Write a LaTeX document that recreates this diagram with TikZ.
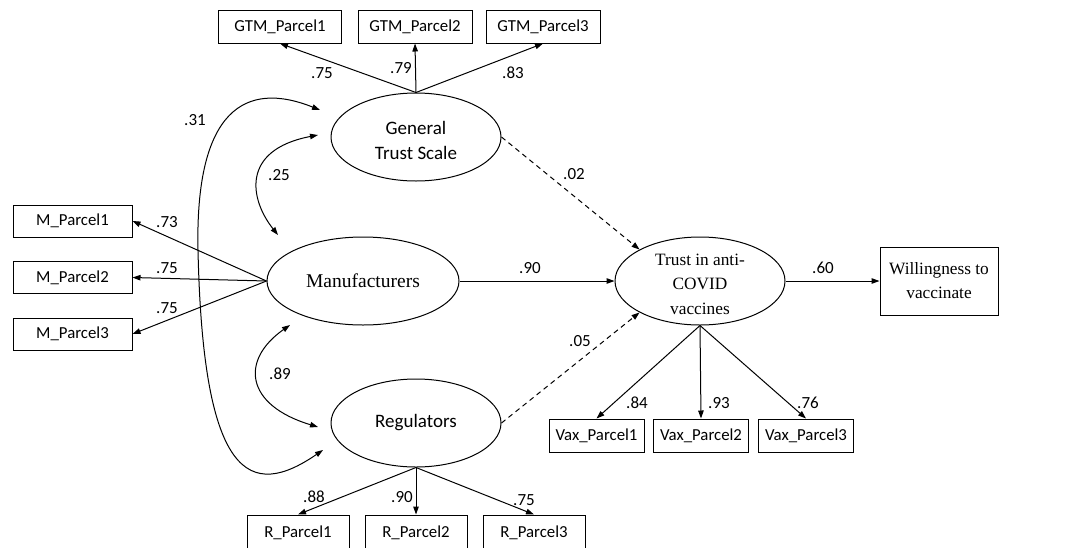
\documentclass[tikz,border=0pt]{standalone}
\usepackage{fontspec}
\setmainfont{Liberation Serif}
\newfontfamily\calfont{Carlito}
\usetikzlibrary{shapes.geometric,arrows.meta}
\tikzset{
  tip/.style={-{Triangle[length=8pt,width=5.5pt]}},
  dtip/.style={{Triangle[length=8pt,width=5.5pt]}-{Triangle[length=8pt,width=5.5pt]}},
  lat/.style={draw,ellipse,minimum width=170pt,minimum height=88pt,inner sep=0pt},
  latm/.style={draw,ellipse,minimum width=192pt,minimum height=88pt,inner sep=0pt},
  obs/.style={draw,rectangle,inner sep=0pt,minimum height=33pt,font=\calfont\fontsize{16.8}{19}\selectfont},
  sanstxt/.style={align=center,inner sep=0pt,font=\calfont\fontsize{19}{25}\selectfont},
  seriftxt/.style={align=center,inner sep=0pt,font=\fontsize{17.3}{24.5}\selectfont},
  coef/.style={inner sep=0pt,font=\calfont\fontsize{17}{19}\selectfont},
  dsh/.style={dash pattern=on 5pt off 4pt}
}
\begin{document}
\begin{tikzpicture}[x=1pt,y=-1pt,line width=1pt]
\useasboundingbox (0,0) rectangle (1068,547);
\clip (0,0) rectangle (1068,547);
% latent variables
\node[lat] (gts) at (416,137) {};
\node[sanstxt] (gtstxt) at (416,140) {General\\Trust Scale};
\node[latm] (man) at (363,281) {};
\node[seriftxt,font=\fontsize{19.5}{24}\selectfont] (mantxt) at (363,281) {Manufacturers};
\node[lat] (reg) at (416,423) {};
\node[sanstxt] (regtxt) at (416,423) {Regulators};
\node[lat] (trust) at (700,281) {};
\node[seriftxt] (trusttxt) at (700,284) {Trust in anti-\\COVID\\vaccines};
% observed
\node[obs,minimum width=123pt] (g1) at (280,26.5) {GTM\_Parcel1};
\node[obs,minimum width=114pt] (g2) at (415,26.5) {GTM\_Parcel2};
\node[obs,minimum width=114pt] (g3) at (543,26.5) {GTM\_Parcel3};
\node[obs,minimum width=119pt,minimum height=32pt] (m1) at (72.5,221) {M\_Parcel1};
\node[obs,minimum width=119pt,minimum height=32pt] (m2) at (72.5,277.5) {M\_Parcel2};
\node[obs,minimum width=119pt,minimum height=32pt] (m3) at (72.5,334) {M\_Parcel3};
\node[obs,minimum width=102pt,minimum height=36pt] (r1) at (298,533) {R\_Parcel1};
\node[obs,minimum width=102pt,minimum height=36pt] (r2) at (416,533) {R\_Parcel2};
\node[obs,minimum width=102pt,minimum height=36pt] (r3) at (534,533) {R\_Parcel3};
\node[obs,minimum width=95pt] (v1) at (596.5,435.5) {Vax\_Parcel1};
\node[obs,minimum width=95pt] (v2) at (701,435.5) {Vax\_Parcel2};
\node[obs,minimum width=95pt] (v3) at (806,435.5) {Vax\_Parcel3};
\node[draw,rectangle,minimum width=118pt,minimum height=68pt,inner sep=0pt,align=center,font=\fontsize{17.3}{24}\selectfont] (will) at (939,281) {Willingness to\\vaccinate};
% loadings
\draw[tip] (gts.north) -- (g1.south);
\draw[tip] (gts.north) -- (g2.south);
\draw[tip] (gts.north) -- (g3.south);
\draw[tip] (man.west) -- (m1.east);
\draw[tip] (man.west) -- (m2.east);
\draw[tip] (man.west) -- (m3.east);
\draw[tip] (reg.south) -- (r1.north);
\draw[tip] (reg.south) -- (r2.north);
\draw[tip] (reg.south) -- (r3.north);
\draw[tip] (trust.south) -- (v1.north);
\draw[tip] (trust.south) -- (v2.north);
\draw[tip] (trust.south) -- (v3.north);
% structural paths
\draw[tip] (man.east) -- (trust.west);
\draw[tip] (trust.east) -- (will.west);
\draw[tip,dsh] (gts.east) -- (trust.north west);
\draw[tip,dsh] (reg.east) -- (trust.south west);
% covariances
\coordinate (c25a) at (318,135);
\coordinate (c25b) at (278,235);
\coordinate (c89a) at (290,325);
\coordinate (c89b) at (318,427);
\coordinate (c31a) at (320,110);
\coordinate (c31m) at (198,250);
\coordinate (c31b) at (323,450);
\draw[dtip] (c25a) .. controls (240,150) and (250,200) .. (c25b);
\draw[dtip] (c89a) .. controls (240,360) and (245,405) .. (c89b);
\draw[tip] (c31m) .. controls (195,110) and (245,80) .. (c31a);
\draw[tip] (c31m) .. controls (203,480) and (250,500) .. (c31b);
% coefficients
\node[coef] (l1) at (322,73) {.75};
\node[coef] (l2) at (401,68) {.79};
\node[coef] (l3) at (513,73) {.83};
\node[coef] (l4) at (195,120) {.31};
\node[coef] (l5) at (279,175) {.25};
\node[coef] (l6) at (574,174) {.02};
\node[coef] (l7) at (167,222) {.73};
\node[coef] (l8) at (167,268) {.75};
\node[coef] (l9) at (167,308) {.75};
\node[coef] (l10) at (530,268) {.90};
\node[coef] (l11) at (823,268) {.60};
\node[coef] (l12) at (580,341) {.05};
\node[coef] (l13) at (280,374) {.89};
\node[coef] (l14) at (314,497) {.88};
\node[coef] (l15) at (402,497) {.90};
\node[coef] (l16) at (524,500) {.75};
\node[coef] (l17) at (637,403) {.84};
\node[coef] (l18) at (719,403) {.93};
\node[coef] (l19) at (808,403) {.76};
\end{tikzpicture}
\end{document}
